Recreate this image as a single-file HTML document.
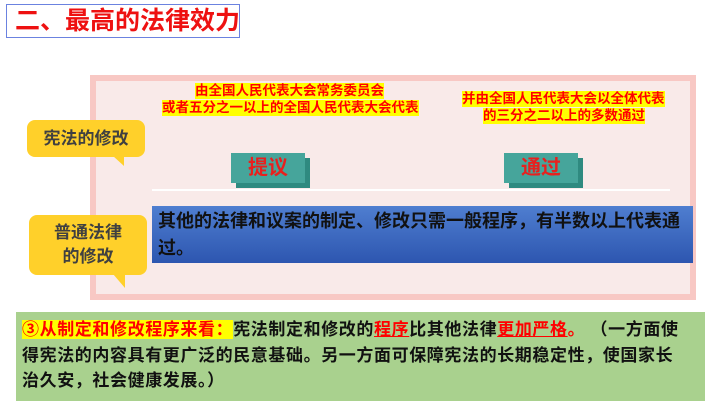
<!DOCTYPE html>
<html><head><meta charset="utf-8"><style>
body{margin:0;width:720px;height:405px;background:#fff;position:relative;overflow:hidden;font-family:"Liberation Sans","Noto Sans CJK SC",sans-serif;font-weight:bold}
.a{position:absolute}
.hl{background:#ffff00;color:#ff0000;font-size:13.5px;line-height:16px;white-space:nowrap}
.tag{background:#ffd02a;border-radius:8px;color:#404040;font-size:17px;text-align:center}
.btn{background:#46a59b;color:#e8201e;font-size:20px;text-align:center;line-height:30px;box-shadow:5px 5px 0 #2f8a80}
.ln{white-space:nowrap;letter-spacing:0.6px}
</style></head><body>
<div class="a" style="left:6px;top:4px;width:234px;height:34px;border:1px solid #6b82e0;color:#ee1111;font-size:25px;line-height:33px;padding-left:8px;box-sizing:border-box;white-space:nowrap;overflow:hidden">二、最高的法律效力</div>

<div class="a" style="left:90px;top:75px;width:606px;height:225px;background:#f8c8c4;"></div>
<div class="a" style="left:96px;top:81px;width:594px;height:213px;background:#f9eae9;"></div>

<div class="a hl" style="left:195px;top:83px">由全国人民代表大会常务委员会</div>
<div class="a hl" style="left:162px;top:100px">或者五分之一以上的全国人民代表大会代表</div>
<div class="a hl" style="left:462px;top:91px">并由全国人民代表大会以全体代表</div>
<div class="a hl" style="left:483px;top:108px">的三分之二以上的多数通过</div>

<div class="a tag" style="left:27px;top:120px;width:118px;height:37px;line-height:37px">宪法的修改</div>
<div class="a" style="left:113px;top:156px;width:0;height:0;border-left:11px solid transparent;border-top:10px solid #ffd02a"></div>

<div class="a btn" style="left:231px;top:153px;width:74px;height:30px">提议</div>
<div class="a btn" style="left:504px;top:153px;width:74px;height:30px">通过</div>
<div class="a" style="left:152px;top:189px;width:518px;height:2px;background:#fff"></div>

<div class="a" style="left:152px;top:206px;width:541px;height:57px;background:linear-gradient(#4f7ed0,#2d56b0);color:#111;font-size:18px;line-height:27px;padding:2px 0 0 6px;box-sizing:border-box"><span class="ln" style="letter-spacing:0">其他的法律和议案的制定、修改只需一般程序，有半数以上代表通</span><br>过。</div>

<div class="a tag" style="left:29px;top:215px;width:118px;height:60px;line-height:24px;padding-top:6px;box-sizing:border-box">普通法律<br>的修改</div>
<div class="a" style="left:113px;top:274px;width:0;height:0;border-left:12px solid transparent;border-top:14px solid #ffd02a"></div>

<div class="a" style="left:16px;top:312px;width:689px;height:89px;background:#a9d18e;color:#111;font-size:17px;line-height:25.5px;padding:5px 0 0 6px;box-sizing:border-box"><span class="ln"><span style="background:#ffff00;color:#ff0000">③从制定和修改程序来看：</span>宪法制定和修改的<span style="color:#ff0000;text-decoration:underline">程序</span>比其他法律<span style="color:#ff0000;text-decoration:underline">更加严格</span><span style="color:#ff0000">。</span> （一方面使</span><br><span class="ln">得宪法的内容具有更广泛的民意基础。另一方面可保障宪法的长期稳定性，使国家长</span><br><span class="ln">治久安，社会健康发展。）</span></div>
</body></html>
